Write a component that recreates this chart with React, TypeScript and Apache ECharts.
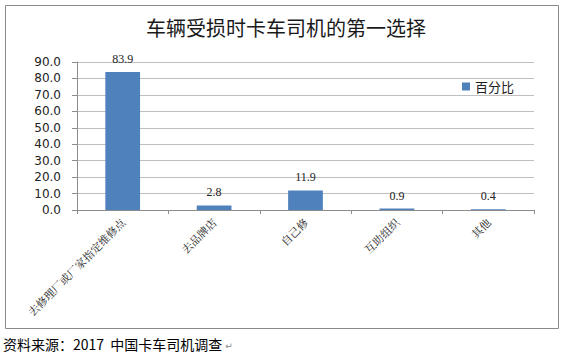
import React, { useEffect, useRef } from "react";
import * as echarts from "echarts";

const title = "车辆受损时卡车司机的第一选择";
const categories = ["去修理厂或厂家指定维修点", "去品牌店", "自己修", "互助组织", "其他"];
const seriesName = "百分比";
const values = [83.9, 2.8, 11.9, 0.9, 0.4];
const yTicks = { min: 0, max: 90, interval: 10 };
const footer = "资料来源：2017  中国卡车司机调查";

export default function App() {
  const ref = useRef<HTMLDivElement>(null);
  useEffect(() => {
    if (!ref.current) return;
    const chart = echarts.init(ref.current, null, { renderer: "svg" });
    chart.setOption({
      animation: false,
      backgroundColor: "#ffffff",
      title: {
        text: title,
        left: 286,
        textAlign: "center",
        top: 17,
        padding: 0,
        textStyle: {
          fontFamily: "Noto Sans CJK SC",
          fontSize: 20,
          fontWeight: "normal",
          color: "#1a1a1a",
        },
      },
      legend: {
        data: [seriesName],
        left: 462,
        top: 80,
        padding: 0,
        itemWidth: 8,
        itemHeight: 8,
        itemGap: 5,
        icon: "rect",
        textStyle: { fontFamily: "Noto Sans CJK SC", fontSize: 13, color: "#222" },
      },
      grid: { left: 77, right: 41, top: 62, bottom: 146 },
      xAxis: {
        type: "category",
        data: categories,
        axisLine: { lineStyle: { color: "#8c8c8c" } },
        axisTick: { show: true, length: 4, lineStyle: { color: "#8c8c8c" } },
        axisLabel: {
          rotate: 45,
          interval: 0,
          margin: 10,
          fontFamily: "Noto Serif CJK SC, Noto Sans CJK SC",
          fontSize: 11,
          color: "#222",
        },
      },
      yAxis: {
        type: "value",
        min: yTicks.min,
        max: yTicks.max,
        interval: yTicks.interval,
        axisLine: { show: true, lineStyle: { color: "#8c8c8c" } },
        axisTick: { show: true, length: 5, lineStyle: { color: "#8c8c8c" } },
        splitLine: { lineStyle: { color: "#bfbfbf" } },
        axisLabel: {
          formatter: (v: number) => v.toFixed(1),
          fontFamily: "DejaVu Sans",
          fontSize: 12,
          color: "#222",
          margin: 16,
        },
      },
      series: [
        {
          name: seriesName,
          type: "bar",
          data: values,
          barWidth: "38%",
          itemStyle: { color: "#4f81bd" },
          label: {
            show: true,
            position: "top",
            distance: 7,
            formatter: (p: any) => p.value.toFixed(1),
            fontFamily: "Liberation Serif",
            fontSize: 12,
            color: "#222",
          },
        },
      ],
      graphic: [
        {
          type: "rect",
          shape: { x: 5.5, y: 5.5, width: 553, height: 323 },
          style: { fill: "none", stroke: "#8a8a8a", lineWidth: 1 },
          silent: true,
        },
        {
          type: "text",
          x: 3,
          y: 344,
          style: {
            text: "{a|" + footer + "}{b|↵}",
            verticalAlign: "middle",
            rich: {
              a: { fontFamily: "Noto Sans CJK SC", fontSize: 14, fill: "#000" },
              b: { fontFamily: "DejaVu Sans", fontSize: 9, fill: "#888", padding: [4, 0, 0, 3] },
            },
          },
        },
      ],
    });
    return () => chart.dispose();
  }, []);
  return (
    <div
      ref={ref}
      style={{ position: "fixed", left: 0, top: 0, width: 575, height: 356 }}
    />
  );
}
